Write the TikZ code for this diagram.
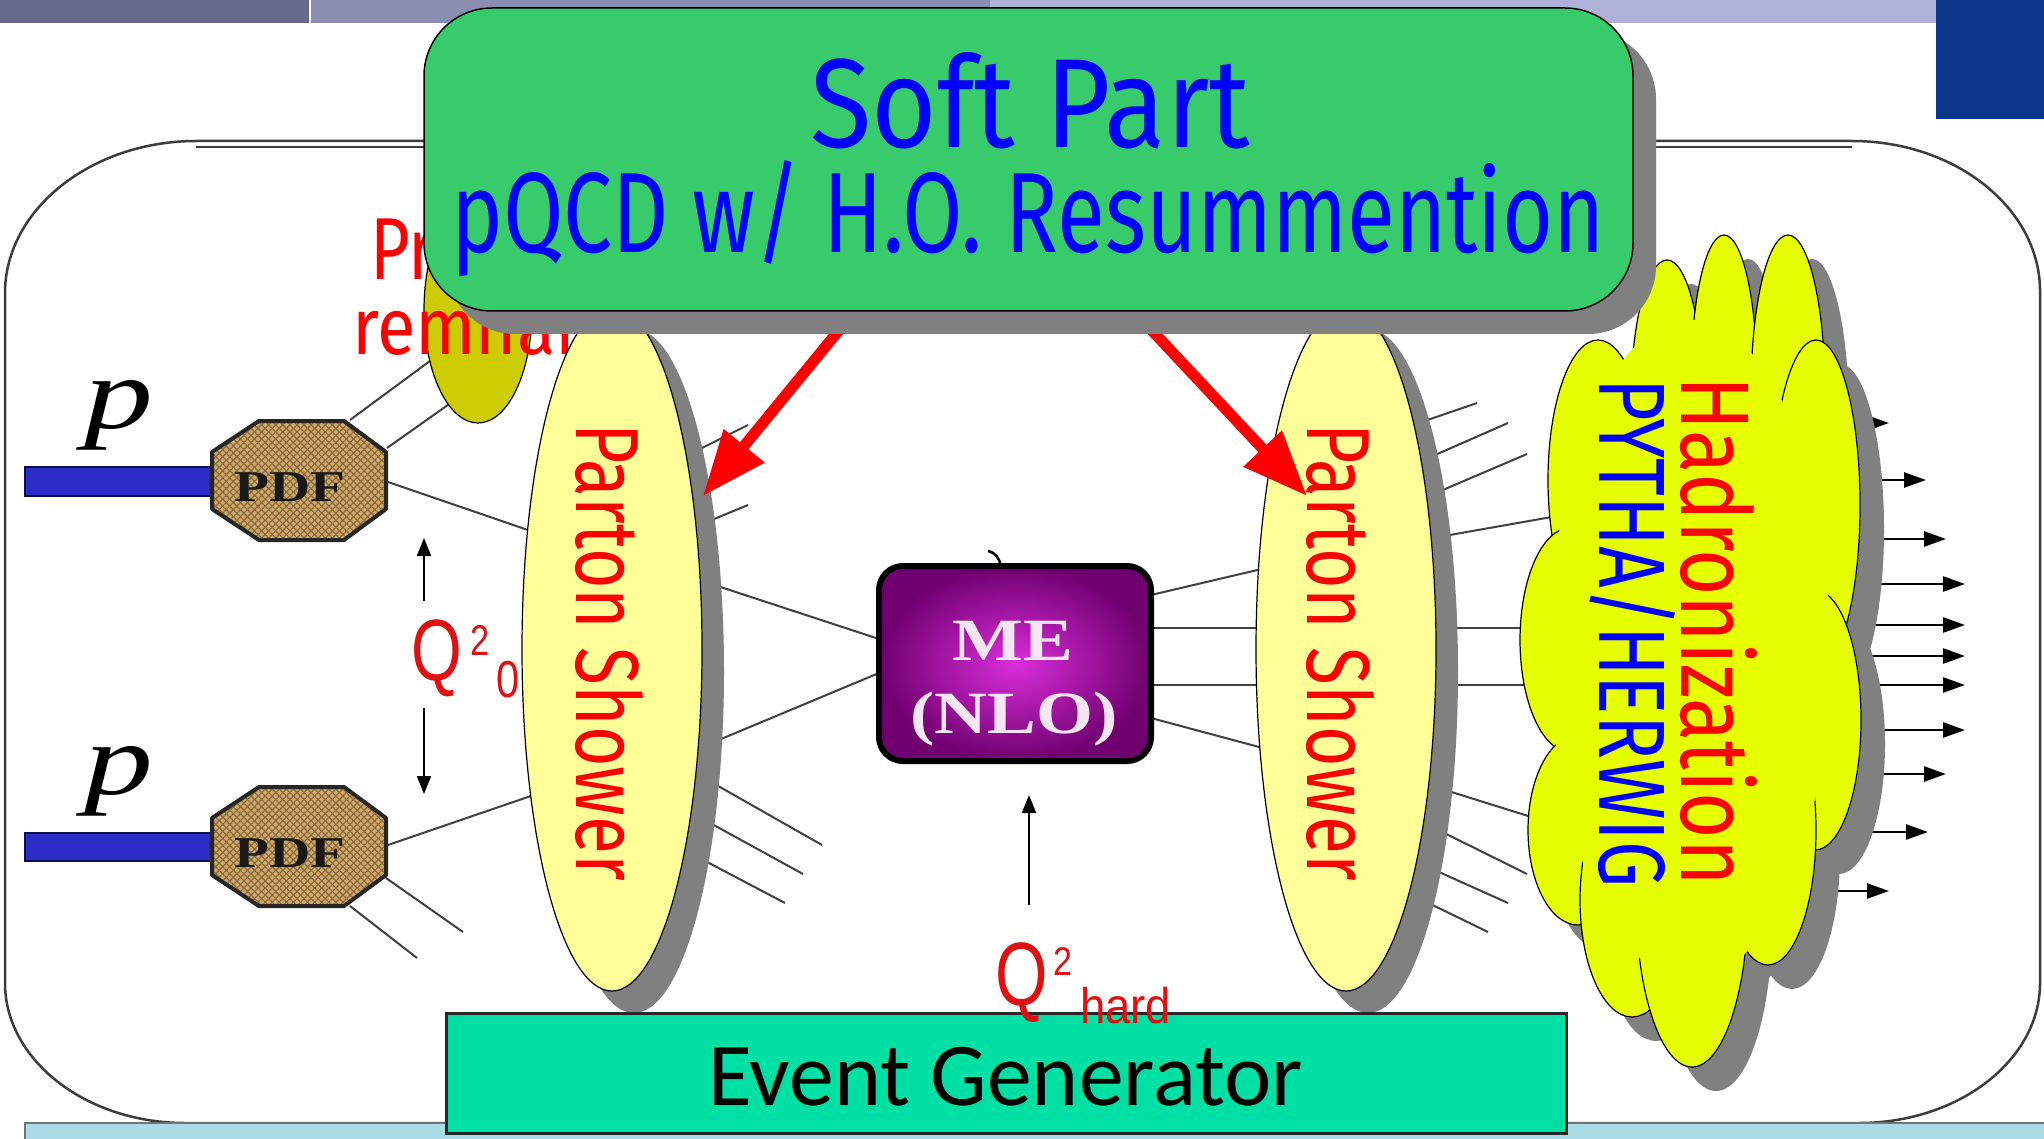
\documentclass[tikz,border=0pt]{standalone}
\usepackage{fontspec}
\usepackage{graphicx}
\usetikzlibrary{arrows.meta,patterns.meta}
\newfontfamily\comicf{Fira Sans}
\newfontfamily\calibf{Carlito}
\newfontfamily\arialf{Liberation Sans}
\newfontfamily\seriff{Liberation Serif}
\definecolor{stripA}{HTML}{676A8C}
\definecolor{stripB}{HTML}{8B8EB0}
\definecolor{stripC}{HTML}{B0B1D8}
\definecolor{cornerblue}{HTML}{0B378A}
\definecolor{framegray}{HTML}{3C3C3C}
\definecolor{bottomstrip}{HTML}{A9DCE6}
\definecolor{barblue}{HTML}{2B2BC7}
\definecolor{barline}{HTML}{0C0C55}
\definecolor{pdftan}{HTML}{CDA86C}
\definecolor{pdfhatch}{HTML}{8A6838}
\definecolor{olivefill}{HTML}{CCCC00}
\definecolor{showerfill}{HTML}{FFFF99}
\definecolor{shadowgray}{HTML}{808080}
\definecolor{cloudfill}{HTML}{E6FF00}
\definecolor{softgreen}{HTML}{37CB6B}
\definecolor{evgreen}{HTML}{00E0A4}
\definecolor{meinner}{HTML}{DA2EDA}
\definecolor{meouter}{HTML}{700070}
\definecolor{metext}{HTML}{F4E6F2}
\definecolor{qred}{HTML}{E01010}
\begin{document}
\begin{tikzpicture}[x=1pt,y=-1pt,
  txt/.style={inner sep=0pt,outer sep=0pt},
  parton/.style={draw=black!75,line width=2pt},
  blackarrow/.style={draw=black,line width=2.5pt,-{Triangle[length=22pt,width=15pt]}},
  qarrow/.style={draw=black,line width=2pt,-{Triangle[length=18pt,width=14pt]}},
  redarrow/.style={draw=red,line width=11pt,-{Triangle[length=65pt,width=50pt]}},
  shadowshape/.style={fill=shadowgray},
  showershape/.style={fill=showerfill,draw=black,line width=1.2pt},
  cloudlobe/.style={fill=cloudfill,draw=black,line width=1.2pt},
  hatchA/.style={pattern={Lines[angle=45,distance=5pt,line width=1.1pt]},pattern color=pdfhatch},
  hatchB/.style={pattern={Lines[angle=-45,distance=5pt,line width=1.1pt]},pattern color=pdfhatch},
]
\useasboundingbox (0,0) rectangle (2044,1139);
\fill[white] (0,0) rectangle (2044,1139);
% top strip
\fill[stripA] (0,0) rectangle (309,23);
\fill[stripB] (311,0) rectangle (990,23);
\fill[stripC] (990,0) rectangle (1936,23);
\fill[cornerblue] (1936,0) rectangle (2044,119);
% frame
\draw[framegray,line width=2.5pt] (196,141) -- (1852,141) .. controls (1956,141) and (2040,209) .. (2040,291) -- (2040,983) .. controls (2040,1060) and (1959,1123) .. (1859,1123) -- (185,1123) .. controls (86,1123) and (5,1060) .. (5,983) -- (5,293) .. controls (5,210) and (91,141) .. cycle;
\draw[framegray,line width=1.5pt] (196,147) -- (1852,147);
% bottom strip
\filldraw[fill=bottomstrip,draw=black!55,line width=1.5pt] (25,1123) rectangle (2050,1145);

% parton lines
\draw[parton] (350,420) -- (438,355);
\draw[parton] (387,448) -- (462,395);
\draw[parton] (388,482) -- (560,541);
\draw[parton] (388,845) -- (560,786);
\draw[parton] (386,878) -- (463,932);
\draw[parton] (350,906) -- (417,958);
\draw[parton] (680,459) -- (748,425);
\draw[parton] (690,529) -- (748,505);
\draw[parton] (690,577) -- (879,639);
\draw[parton] (690,752) -- (879,673);
\draw[parton] (690,770) -- (822,845);
\draw[parton] (690,812) -- (803,874);
\draw[parton] (690,853) -- (785,903);
\draw[parton] (1151,595) -- (1300,560);
\draw[parton] (1151,628) -- (1300,628);
\draw[parton] (1151,685) -- (1300,685);
\draw[parton] (1151,718) -- (1300,758);
\draw[parton] (1410,426) -- (1477,403);
\draw[parton] (1410,466) -- (1508,423);
\draw[parton] (1410,504) -- (1527,454);
\draw[parton] (1410,542) -- (1580,512);
\draw[parton] (1410,628) -- (1560,628);
\draw[parton] (1410,685) -- (1560,685);
\draw[parton] (1410,779) -- (1560,826);
\draw[parton] (1410,816) -- (1527,874);
\draw[parton] (1410,859) -- (1508,903);
\draw[parton] (1410,894) -- (1488,932);

% proton beams
\filldraw[fill=barblue,draw=barline,line width=2pt] (25,467) rectangle (213,496);
\filldraw[fill=barblue,draw=barline,line width=2pt] (25,833) rectangle (213,861);
% PDF octagons
\fill[pdftan] (259,421) -- (344,421) -- (386,452) -- (386,509) -- (344,540) -- (259,540) -- (212,509) -- (212,452) -- cycle;
\fill[hatchA] (259,421) -- (344,421) -- (386,452) -- (386,509) -- (344,540) -- (259,540) -- (212,509) -- (212,452) -- cycle;
\fill[hatchB] (259,421) -- (344,421) -- (386,452) -- (386,509) -- (344,540) -- (259,540) -- (212,509) -- (212,452) -- cycle;
\draw[black!85,line width=4pt,line join=round] (259,421) -- (344,421) -- (386,452) -- (386,509) -- (344,540) -- (259,540) -- (212,509) -- (212,452) -- cycle;
\fill[pdftan] (259,787) -- (344,787) -- (386,818) -- (386,875) -- (344,906) -- (259,906) -- (212,875) -- (212,818) -- cycle;
\fill[hatchA] (259,787) -- (344,787) -- (386,818) -- (386,875) -- (344,906) -- (259,906) -- (212,875) -- (212,818) -- cycle;
\fill[hatchB] (259,787) -- (344,787) -- (386,818) -- (386,875) -- (344,906) -- (259,906) -- (212,875) -- (212,818) -- cycle;
\draw[black!85,line width=4pt,line join=round] (259,787) -- (344,787) -- (386,818) -- (386,875) -- (344,906) -- (259,906) -- (212,875) -- (212,818) -- cycle;
\node[txt,text=black!90] (pdfA) at (290,487) {\scalebox{1.3}[1]{\seriff\bfseries\fontsize{44}{44}\selectfont PDF}};
\node[txt,text=black!90] (pdfB) at (290,853) {\scalebox{1.3}[1]{\seriff\bfseries\fontsize{44}{44}\selectfont PDF}};
% p labels
\node[txt,anchor=base west] (pA) at (84,428) {\scalebox{1.35}[1]{\seriff\itshape\fontsize{102}{102}\selectfont p}};
\node[txt,anchor=base west] (pB) at (84,794) {\scalebox{1.35}[1]{\seriff\itshape\fontsize{102}{102}\selectfont p}};

% proton remnant
\filldraw[fill=olivefill,draw=black,line width=1.2pt] (478,310) ellipse [x radius=54, y radius=113];
\node[txt,anchor=base west,text=red] (proton) at (370,280) {\scalebox{0.78}[1]{\comicf\fontsize{88}{88}\selectfont Proton}};
\node[txt,anchor=base west,text=red] (remnant) at (352,355) {\scalebox{0.88}[1]{\comicf\fontsize{80}{80}\selectfont remnant}};

% hadron arrows
\foreach \yy/\xt in {423/1889,480/1926,539/1946,584/1965,625/1965,656/1965,685/1965,730/1965,774/1946,832/1928,891/1889}
  \draw[blackarrow] (1800,\yy) -- (\xt,\yy);

% parton showers
\fill[shadowshape] (634,671) ellipse [x radius=90, y radius=342];
\filldraw[showershape] (612,649) ellipse [x radius=90, y radius=342];
\node[txt,rotate=-90,text=red] (psL) at (609,652) {\resizebox{458pt}{67pt}{\comicf Parton Shower}};
\fill[shadowshape] (1368,671) ellipse [x radius=90, y radius=342];
\filldraw[showershape] (1346,649) ellipse [x radius=90, y radius=342];
\node[txt,rotate=-90,text=red] (psR) at (1340,652) {\resizebox{458pt}{67pt}{\comicf Parton Shower}};

% hadronization cloud
\foreach \cx/\cy/\rx/\ry in {1667/400/36/140,1724/380/33/145,1788/392/37/157,1598/480/50/140,1816/505/44/165,1570/640/50/112,1815/720/46/130,1578/830/50/95,1768/830/48/135,1632/900/52/117,1692/900/56/167,1690/650/140/330}
  \fill[shadowshape] (\cx+24,\cy+24) ellipse [x radius=\rx, y radius=\ry];
\foreach \cx/\cy/\rx/\ry in {1667/400/36/140,1724/380/33/145,1788/392/37/157,1598/480/50/140,1816/505/44/165,1570/640/50/112,1815/720/46/130,1578/830/50/95,1768/830/48/135,1632/900/52/117,1692/900/56/167}
  \filldraw[cloudlobe] (\cx,\cy) ellipse [x radius=\rx, y radius=\ry];
\fill[cloudfill] (1690,650) ellipse [x radius=140, y radius=330];
\node[txt,rotate=-90,text=red] (hadr) at (1719,631) {\resizebox{509pt}{76pt}{\comicf Hadronization}};
\node[txt,rotate=-90,text=blue] (pyth) at (1633,633) {\resizebox{509pt}{76pt}{\comicf PYTHA/HERWIG}};

% matrix element
\shade[inner color=meinner,outer color=meouter,rounded corners=24pt] (879,566) rectangle (1151,761);
\draw[black,line width=6pt,rounded corners=24pt] (879,566) rectangle (1151,761);
\draw[black,line width=2.5pt] (988,551) .. controls (996,553) and (999,558) .. (1001,566);
\node[txt,anchor=base,text=metext] (meA) at (1013,660) {\scalebox{1.25}[1]{\seriff\bfseries\fontsize{60}{60}\selectfont ME}};
\node[txt,anchor=base,text=metext] (meB) at (1014,733) {\scalebox{1.22}[1]{\seriff\bfseries\fontsize{60}{60}\selectfont (NLO)}};

% red arrows
\draw[redarrow] (872,290) -- (703,496);
\draw[redarrow] (1114,290) -- (1307,496);

% soft part box
\fill[shadowshape,rounded corners=68pt] (447,31) rectangle (1656,334);
\filldraw[fill=softgreen,draw=black,line width=1.5pt,rounded corners=68pt] (424,8) rectangle (1633,311);
\node[txt,anchor=base west,text=blue] (soft) at (810,148) {\resizebox{440pt}{95pt}{\comicf Soft Part}};
\node[txt,anchor=base west,text=blue] (pqcd) at (451,253) {\resizebox{1153pt}{92pt}{\comicf pQCD w/ H.O. Resummention}};

% event generator
\filldraw[fill=evgreen,draw=black!85,line width=3pt] (446,1013) rectangle (1566,1133);
\node[txt,anchor=base west] (evgen) at (708,1105) {\resizebox{595pt}{!}{\calibf\fontsize{90}{90}\selectfont Event Generator}};

% Q0 label
\draw[qarrow] (424,601) -- (424,538);
\draw[qarrow] (424,708) -- (424,794);
\node[txt,anchor=base west,text=qred] (q0Q) at (411,680) {\scalebox{0.75}[1]{\arialf\fontsize{87}{87}\selectfont Q}};
\node[txt,anchor=base west,text=qred] (q0two) at (470,655) {\scalebox{0.8}[1]{\arialf\fontsize{43}{43}\selectfont 2}};
\node[txt,anchor=base west,text=qred] (q0zero) at (496,697) {\scalebox{0.8}[1]{\arialf\fontsize{52}{52}\selectfont 0}};
% Q hard label
\draw[qarrow] (1029,905) -- (1029,795);
\node[txt,anchor=base west,text=qred] (qhQ) at (995,1005) {\scalebox{0.75}[1]{\arialf\fontsize{90}{90}\selectfont Q}};
\node[txt,anchor=base west,text=qred] (qhtwo) at (1053,975) {\scalebox{0.85}[1]{\arialf\fontsize{40}{40}\selectfont 2}};
\node[txt,anchor=base west,text=qred] (qhard) at (1080,1023) {\scalebox{0.91}[1]{\arialf\fontsize{50}{50}\selectfont hard}};
\end{tikzpicture}
\end{document}
